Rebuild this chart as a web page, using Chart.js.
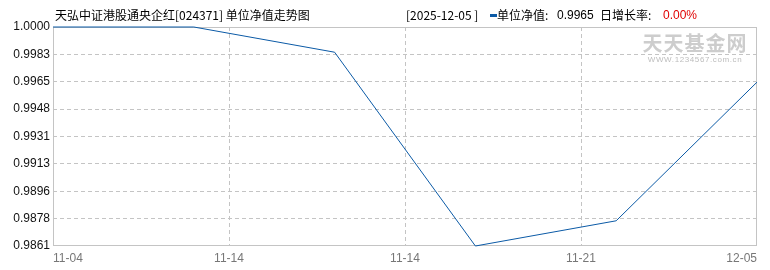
<!DOCTYPE html>
<html>
<head>
<meta charset="utf-8">
<script src="https://cdn.jsdelivr.net/npm/chart.js@4"></script>
<style>
    html, body { margin: 0; padding: 0; background: #fff; }
    #wrap { position: relative; width: 770px; height: 270px; font-family: "Noto Sans CJK SC", "Liberation Sans", sans-serif; }
    canvas { position: absolute; left: 0; top: 0; }
    .txt { position: absolute; top: 8px; font-size: 12px; line-height: 14px; color: #000; white-space: nowrap; }
    .num { font-family: "Liberation Sans", sans-serif; }
    .dash { position: absolute; left: 490px; top: 14px; width: 7px; height: 3px; background: #0b5aa6; }
    .red { color: #e00000; }
    #mark { position: absolute; left: 641px; top: 31px; width: 108px; text-align: center; color: #cdcdcd; white-space: nowrap; }
    #mark .big { font-size: 20px; font-weight: bold; line-height: 24px; letter-spacing: 1px; }
    #mark .small { font-size: 8px; line-height: 10px; letter-spacing: 0.6px; font-family: "Liberation Sans", sans-serif; color: #bdbdbd; }
</style>
</head>
<body>
<div id="wrap">
    <canvas id="navChart" width="770" height="270"></canvas>
    <div class="txt" style="left:55px">天弘中证港股通央企红[024371] 单位净值走势图</div>
    <div class="txt" style="left:406px">[2025-12-05 ]</div>
    <div class="dash"></div>
    <div class="txt" style="left:497px">单位净值:</div>
    <div class="txt num" style="left:557px">0.9965</div>
    <div class="txt" style="left:600px">日增长率:</div>
    <div class="txt num red" style="left:663px">0.00%</div>
    <div id="mark"><div class="big">天天基金网</div><div class="small">WWW.1234567.com.cn</div></div>
</div>
<script>
// 单位净值数据
const navValues = [1.0000, 1.0000, 0.9984, 0.9861, 0.9877, 0.9965];

// 坐标轴刻度
const yTickLabels = ['0.9861', '0.9878', '0.9896', '0.9913', '0.9931', '0.9948', '0.9965', '0.9983', '1.0000'];
const xTickLabels = ['11-04', '11-14', '11-14', '11-21', '12-05'];

const yMin = 0.9861;
const yMax = 1.0000;
const xMax = navValues.length - 1;

const gridColor = '#c4c4c4';

// 外框（实线）
const boxPlugin = {
    id: 'box',
    beforeDatasetsDraw(chart) {
        const { ctx, chartArea: a } = chart;
        ctx.save();
        ctx.strokeStyle = gridColor;
        ctx.lineWidth = 1;
        ctx.strokeRect(a.left + 0.5, a.top + 0.5, a.right - a.left - 1, a.bottom - a.top - 1);
        ctx.restore();
    }
};

const ctx = document.getElementById('navChart').getContext('2d');

new Chart(ctx, {
    type: 'line',
    data: {
        datasets: [{
            label: '单位净值',
            data: navValues.map((v, i) => ({ x: i, y: v })),
            borderColor: '#0b5aa6',
            borderWidth: 1,
            pointRadius: 0,
            tension: 0,
            fill: false,
            clip: false
        }]
    },
    options: {
        responsive: false,
        animation: false,
        layout: { padding: { top: 27, right: 13, left: 0, bottom: 0 } },
        plugins: {
            legend: { display: false },
            tooltip: { enabled: false }
        },
        scales: {
            x: {
                type: 'linear',
                min: 0,
                max: xMax,
                afterBuildTicks: (scale) => {
                    scale.ticks = xTickLabels.map((_, i) => ({ value: i * xMax / (xTickLabels.length - 1) }));
                },
                afterFit: (scale) => { scale.height = 24; },
                grid: {
                    color: (c) => (c.index === 0 || c.index === xTickLabels.length - 1) ? 'rgba(0,0,0,0)' : gridColor,
                    drawTicks: false
                },
                border: { display: false, dash: [4, 3] },
                ticks: {
                    autoSkip: false,
                    maxRotation: 0,
                    align: 'inner',
                    padding: 5,
                    color: '#777',
                    font: { size: 12, family: '"Liberation Sans", sans-serif' },
                    callback: (v, i) => xTickLabels[i]
                }
            },
            y: {
                min: yMin,
                max: yMax,
                afterBuildTicks: (scale) => {
                    const step = (yMax - yMin) / (yTickLabels.length - 1);
                    scale.ticks = yTickLabels.map((_, i) => ({ value: yMin + i * step }));
                },
                afterFit: (scale) => { scale.width = 53; },
                grid: {
                    color: (c) => (c.index === 0 || c.index === yTickLabels.length - 1) ? 'rgba(0,0,0,0)' : gridColor,
                    drawTicks: false
                },
                border: { display: false, dash: [4, 3] },
                ticks: {
                    autoSkip: false,
                    padding: 3,
                    color: '#111',
                    font: { size: 12, family: '"Liberation Sans", sans-serif' },
                    callback: (v, i) => yTickLabels[i]
                }
            }
        }
    },
    plugins: [boxPlugin]
});
</script>
</body>
</html>
